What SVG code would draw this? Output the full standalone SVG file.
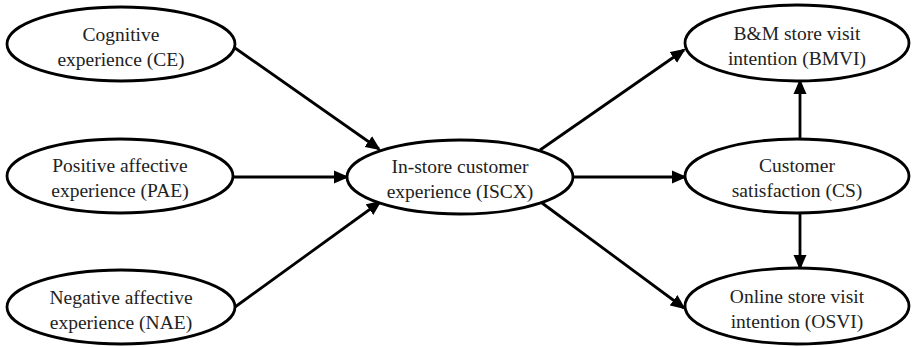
<svg xmlns="http://www.w3.org/2000/svg" width="912" height="347" viewBox="0 0 912 347">
<style>
.node ellipse{fill:#fff;stroke:#000;stroke-width:2.8}
.node text{font-family:"Liberation Serif","Times New Roman",serif;font-size:19.5px;fill:#222;text-anchor:middle}
.conn line{stroke:#000;stroke-width:2.8;fill:none;marker-end:url(#ah)}
</style>
<defs>
<marker id="ah" markerUnits="userSpaceOnUse" markerWidth="16" markerHeight="14" refX="13" refY="7" orient="auto">
<path d="M0,0.5 L15,7 L0,13.5 z" fill="#000"/>
</marker>
</defs>
<rect width="912" height="347" fill="#fff"/>
<g id="connectors" class="conn">
<line x1="235" y1="48" x2="379" y2="149"/>
<line x1="233" y1="177" x2="347" y2="177"/>
<line x1="235" y1="307" x2="380" y2="202"/>
<line x1="540" y1="150" x2="684" y2="50"/>
<line x1="573" y1="177" x2="685" y2="177"/>
<line x1="542" y1="203" x2="684" y2="308"/>
<line x1="800" y1="138" x2="800" y2="81"/>
<line x1="800" y1="213" x2="800" y2="268"/>
</g>
<g id="CE" class="node">
<ellipse cx="121" cy="44" rx="114" ry="37"/>
<text x="121" y="41">Cognitive</text>
<text x="121" y="66">experience (CE)</text>
</g>
<g id="PAE" class="node">
<ellipse cx="120" cy="176" rx="113" ry="37"/>
<text x="120" y="172">Positive affective</text>
<text x="120" y="197">experience (PAE)</text>
</g>
<g id="NAE" class="node">
<ellipse cx="121" cy="307" rx="114" ry="37"/>
<text x="121" y="304">Negative affective</text>
<text x="121" y="329">experience (NAE)</text>
</g>
<g id="ISCX" class="node">
<ellipse cx="460" cy="177" rx="113" ry="37"/>
<text x="460" y="173">In-store customer</text>
<text x="460" y="198">experience (ISCX)</text>
</g>
<g id="BMVI" class="node">
<ellipse cx="797" cy="43" rx="112" ry="38"/>
<text x="797" y="40">B&amp;M store visit</text>
<text x="797" y="65">intention (BMVI)</text>
</g>
<g id="CS" class="node">
<ellipse cx="797" cy="176" rx="112" ry="37"/>
<text x="797" y="172">Customer</text>
<text x="797" y="197">satisfaction (CS)</text>
</g>
<g id="OSVI" class="node">
<ellipse cx="797" cy="306" rx="112" ry="38"/>
<text x="797" y="303">Online store visit</text>
<text x="797" y="328">intention (OSVI)</text>
</g>
</svg>
